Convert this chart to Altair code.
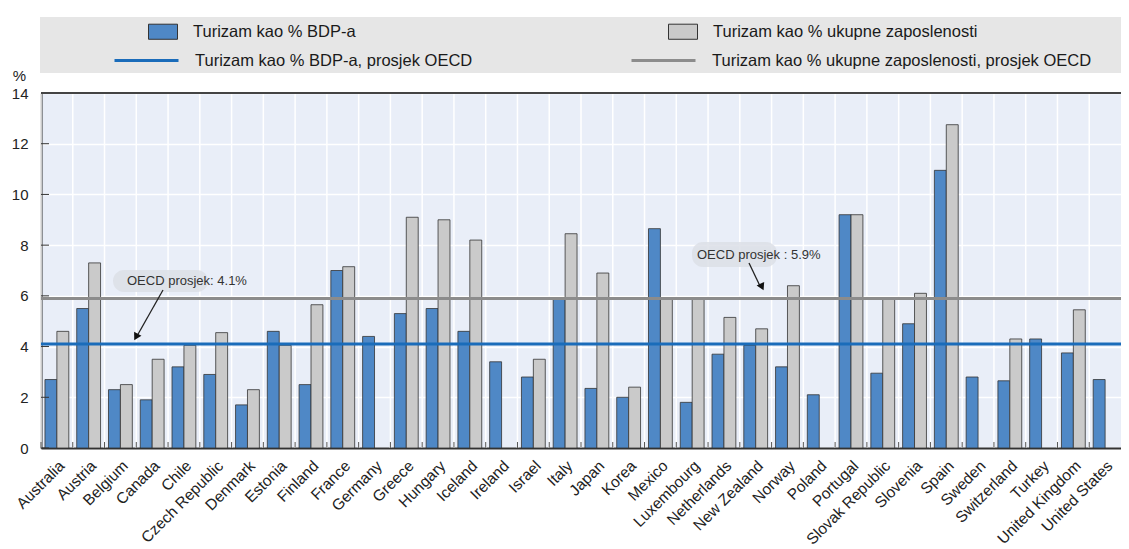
import altair as alt
import pandas as pd

countries = ["Australia", "Austria", "Belgium", "Canada", "Chile", "Czech Republic", "Denmark",
             "Estonia", "Finland", "France", "Germany", "Greece", "Hungary", "Iceland", "Ireland",
             "Israel", "Italy", "Japan", "Korea", "Mexico", "Luxembourg", "Netherlands",
             "New Zealand", "Norway", "Poland", "Portugal", "Slovak Republic", "Slovenia", "Spain",
             "Sweden", "Switzerland", "Turkey", "United Kingdom", "United States"]
gdp_share = [2.7, 5.5, 2.3, 1.9, 3.2, 2.9, 1.7, 4.6, 2.5, 7.0, 4.4, 5.3, 5.5, 4.6, 3.4, 2.8, 5.9,
             2.35, 2.0, 8.65, 1.8, 3.7, 4.05, 3.2, 2.1, 9.2, 2.95, 4.9, 10.95, 2.8, 2.65, 4.3, 3.75, 2.7]
emp_share = [4.6, 7.3, 2.5, 3.5, 4.05, 4.55, 2.3, 4.05, 5.65, 7.15, None, 9.1, 9.0, 8.2, None, 3.5,
             8.45, 6.9, 2.4, 5.9, 5.9, 5.15, 4.7, 6.4, None, 9.2, 5.9, 6.1, 12.75, None, 4.3, None,
             5.45, None]
bar_names = ["Turizam kao % BDP-a", "Turizam kao % ukupne zaposlenosti"]
line_names = ["Turizam kao % BDP-a, prosjek OECD", "Turizam kao % ukupne zaposlenosti, prosjek OECD"]
oecd_avg = [4.1, 5.9]
y_ticks = [0, 2, 4, 6, 8, 10, 12, 14]
notes = ["OECD prosjek: 4.1%", "OECD prosjek : 5.9%"]

W, H = 1080, 355
FONT = "Liberation Sans"
BLUE_BAR, GREY_BAR = "#4F88C6", "#CACACA"
BLUE_LINE, GREY_LINE = "#1A6CBA", "#8C8C8C"

rows = []
for c, g, e in zip(countries, gdp_share, emp_share):
    rows.append({"country": c, "series": bar_names[0], "value": g})
    if e is not None:
        rows.append({"country": c, "series": bar_names[1], "value": e})
bars_df = pd.DataFrame(rows)
avg_df = pd.DataFrame({"name": line_names, "value": oecd_avg})
cty_df = pd.DataFrame({"country": countries})
tick_df = pd.DataFrame({"value": y_ticks})
one = pd.DataFrame({"k": [0]})

x_scale = alt.Scale(paddingInner=0, paddingOuter=0)
x_axis = alt.Axis(title=None, labelAngle=-45, labelAlign="right", labelBaseline="top",
                  labelFontSize=15.5, labelColor="#222", ticks=False, grid=False,
                  domainColor="#333", domainWidth=2, labelPadding=10)
y_scale = alt.Scale(domain=[0, 14], nice=False)
y_axis = alt.Axis(values=y_ticks, title="%", titleAngle=0, titleX=-22, titleY=-18,
                  titleAlign="center", titleBaseline="middle", titleFontSize=15,
                  titleFontWeight="normal", titleColor="#222", labelFontSize=15,
                  labelColor="#222", ticks=False, labelPadding=13, grid=True,
                  gridColor="white", gridWidth=1.5, domainColor="#333", domainWidth=2)


def xenc(bp=0.5):
    return alt.X("country:N", sort=countries, scale=x_scale, axis=x_axis, bandPosition=bp)


band = alt.Chart(one).mark_rect(color="#E6E6E6").encode(
    x=alt.value(-1), x2=alt.value(W), y=alt.value(-76), y2=alt.value(-20))

vgrid = alt.Chart(cty_df).mark_rule(color="white", strokeWidth=1.5).encode(x=xenc(0))

bars = alt.Chart(bars_df).mark_bar(stroke="#333", strokeWidth=0.8).encode(
    x=xenc(),
    xOffset=alt.XOffset("series:N", sort=bar_names,
                        scale=alt.Scale(domain=bar_names, paddingOuter=0.333, paddingInner=0)),
    y=alt.Y("value:Q", scale=y_scale, axis=y_axis),
    fill=alt.Fill("series:N", scale=alt.Scale(domain=bar_names, range=[BLUE_BAR, GREY_BAR]),
                  legend=alt.Legend(orient="none", legendX=107, legendY=-76.5,
                                    direction="horizontal", columns=2, columnPadding=310,
                                    title=None, labelFontSize=16.5, labelColor="#1a1a1a",
                                    labelOffset=15, padding=0, labelLimit=700,
                                    symbolType="M-1,-0.52H1V0.52H-1Z", symbolSize=841,
                                    symbolStrokeColor="#333", symbolStrokeWidth=1)),
)

avg_lines = alt.Chart(avg_df).mark_rule(strokeWidth=3).encode(
    y=alt.Y("value:Q", scale=y_scale, axis=y_axis),
    stroke=alt.Stroke("name:N", scale=alt.Scale(domain=line_names, range=[BLUE_LINE, GREY_LINE]),
                      legend=alt.Legend(orient="none", legendX=72, legendY=-66,
                                        direction="horizontal", columns=2, columnPadding=152,
                                        title=None, labelFontSize=16.5, labelColor="#1a1a1a",
                                        labelOffset=15, padding=0, labelLimit=700,
                                        symbolType="stroke",
                                        symbolSize=4096, symbolStrokeWidth=3)),
)

bticks = alt.Chart(cty_df).mark_rule(color="#555", strokeWidth=1).encode(
    x=xenc(0), y=alt.value(H), y2=alt.value(H - 6))

yticks = alt.Chart(tick_df).mark_rule(color="#333", strokeWidth=1).encode(
    y=alt.Y("value:Q", scale=y_scale, axis=y_axis), x=alt.value(0), x2=alt.value(8))

top_border = alt.Chart(one).mark_rule(color="#444", strokeWidth=2).encode(
    y=alt.value(0), x=alt.value(0), x2=alt.value(W))

bubble1 = alt.Chart(one).mark_rect(color="#DCDFE6", opacity=0.85, cornerRadius=11).encode(
    x=alt.value(72), x2=alt.value(167), y=alt.value(177), y2=alt.value(199))
text1 = alt.Chart(one).mark_text(align="left", baseline="middle", fontSize=13, color="#333").encode(
    x=alt.value(86), y=alt.value(188), text=alt.value(notes[0]))
arrow1 = alt.Chart(one).mark_rule(color="#222", strokeWidth=1.3).encode(
    x=alt.value(122), x2=alt.value(96), y=alt.value(197), y2=alt.value(243))
head1 = alt.Chart(one).mark_point(shape="triangle-up", filled=True, size=70, angle=209,
                                  color="#111", opacity=1).encode(
    x=alt.value(95), y=alt.value(244))

bubble2 = alt.Chart(one).mark_rect(color="#DCDFE6", opacity=0.85, cornerRadius=11).encode(
    x=alt.value(651), x2=alt.value(736), y=alt.value(149), y2=alt.value(174))
text2 = alt.Chart(one).mark_text(align="left", baseline="middle", fontSize=13, color="#333").encode(
    x=alt.value(656), y=alt.value(162), text=alt.value(notes[1]))
arrow2 = alt.Chart(one).mark_rule(color="#222", strokeWidth=1.3).encode(
    x=alt.value(708), x2=alt.value(719), y=alt.value(170), y2=alt.value(193))
head2 = alt.Chart(one).mark_point(shape="triangle-up", filled=True, size=70, angle=154,
                                  color="#111", opacity=1).encode(
    x=alt.value(721), y=alt.value(194))

chart = alt.layer(
    band, vgrid, bars, avg_lines, bticks, yticks, top_border,
    bubble1, text1, arrow1, head1, bubble2, text2, arrow2, head2,
).resolve_scale(fill="independent", stroke="independent").properties(
    width=W, height=H,
    autosize=alt.AutoSizeParams(type="none"),
    padding={"left": 33, "top": 85, "right": 0, "bottom": 100},
).configure(font=FONT).configure_view(fill="#E9EEF8", stroke=None)

chart.save("out.html", embed_options={"renderer": "svg", "actions": False})
